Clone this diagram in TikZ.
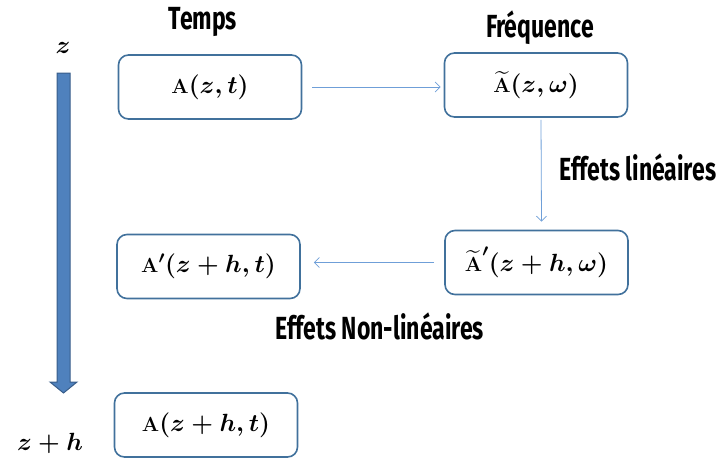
\documentclass[tikz,border=0pt]{standalone}
\usepackage{amsmath}
\usepackage{fontspec}
\usetikzlibrary{arrows.meta}
\newfontfamily\labfont[FakeStretch=0.72]{Fira Sans}
\definecolor{boxblue}{HTML}{41719C}
\definecolor{arrblue}{HTML}{6F9FD8}
\definecolor{bigfill}{HTML}{4F81BD}
\definecolor{bigedge}{HTML}{385D8A}
\newcommand{\smA}{\scalebox{0.85}{\textbf{A}}}
\tikzset{
  box/.style={draw=boxblue, line width=1.6pt, rounded corners=10pt, minimum width=183pt, minimum height=64pt, inner sep=0pt, font=\fontsize{24}{26}\selectfont\boldmath},
  conn/.style={draw=arrblue, line width=0.8pt, -{Straight Barb[length=5pt,width=10pt]}},
  lab/.style={font=\labfont\bfseries\fontsize{32}{34}\selectfont, inner sep=0pt},
  zlab/.style={font=\fontsize{24}{26}\selectfont\boldmath, inner sep=0pt}
}
\begin{document}
\begin{tikzpicture}[x=1pt,y=-1pt]
\useasboundingbox (0,0) rectangle (724,459);
\node[box] (b1) at (210,87) {$\smA(z,t)$};
\node[box] (b2) at (536,85) {$\widetilde{\smA}(z,\omega)$};
\node[box] (b3) at (208.5,266.5) {$\smA'(z+h,t)$};
\node[box] (b4) at (536.5,262.5) {$\widetilde{\smA}'(z+h,\omega)$};
\node[box] (b5) at (206,425) {$\smA(z+h,t)$};
\node[lab] (temps) at (203,22) {Temps};
\node[lab] (freq) at (540,28) {Fréquence};
\node[lab] (lin) at (638,167) {Effets linéaires};
\node[lab] (nonlin) at (380,326) {Effets Non-linéaires};
\node[zlab] (z) at (63,48) {$z$};
\node[zlab] (zh) at (50,443) {$z+h$};
\draw[fill=bigfill, draw=bigedge, line width=1pt] (57,73) -- (70,73) -- (70,382) -- (77,382) -- (63.5,393) -- (50,382) -- (57,382) -- cycle;
\draw[conn] ([xshift=10pt]b1.east) -- ([xshift=-3pt]b2.west |- b1.east);
\draw[conn] ([xshift=5pt,yshift=-2pt]b2.south) -- ([xshift=5pt,yshift=8pt]b4.north);
\draw[conn] ([xshift=-10pt]b4.west) -- ([xshift=13pt]b3.east |- b4.west);
\end{tikzpicture}
\end{document}
